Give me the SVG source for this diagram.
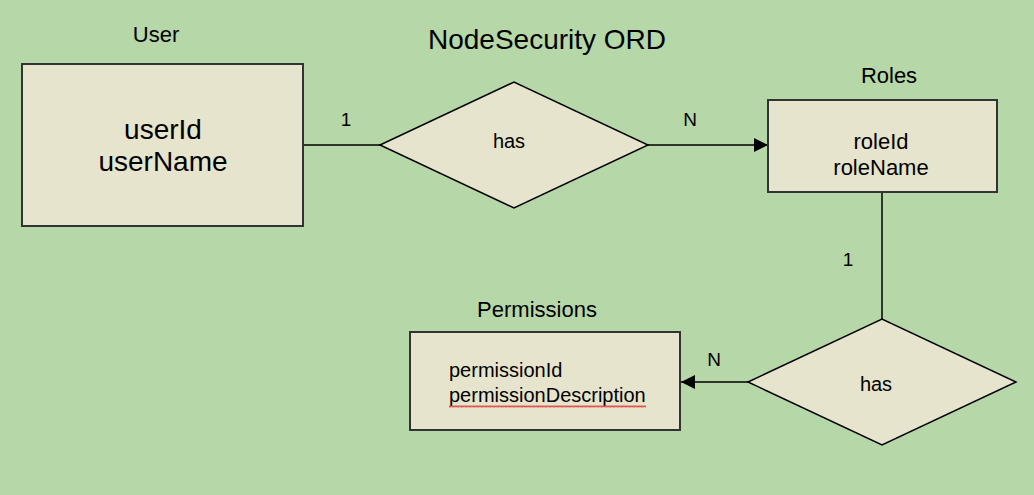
<svg xmlns="http://www.w3.org/2000/svg" width="1034" height="495" viewBox="0 0 1034 495">
<defs>
<marker id="arr" viewBox="0 0 10 10" refX="10" refY="5" markerWidth="14" markerHeight="14" markerUnits="userSpaceOnUse" orient="auto"><path d="M0,0 L10,5 L0,10 z" fill="#000"/></marker>
<pattern id="wave" width="4" height="3" patternUnits="userSpaceOnUse"><path d="M0,2.5 L1,0.5 L2,2.5 L3,0.5 L4,2.5" fill="none" stroke="#e03030" stroke-width="0.8"/></pattern>
</defs>
<style>
text{font-family:Arial,"Liberation Sans",sans-serif;fill:#000}
.ent{fill:#e6e4cc;stroke:#333;stroke-width:2}
.rel{fill:#e6e4cc;stroke:#000;stroke-width:1.5}
.c{fill:none;stroke:#000;stroke-width:1.5}
.lbl{font-size:22px}
.card{font-size:19px}
</style>
<rect width="1034" height="495" fill="#b6d7a8"/>
<text x="547" y="49" font-size="28" text-anchor="middle">NodeSecurity ORD</text>
<g id="connectors">
<line class="c" x1="303" y1="145" x2="380" y2="145"/>
<line class="c" x1="648" y1="145" x2="768" y2="145" marker-end="url(#arr)"/>
<line class="c" x1="882" y1="192" x2="882" y2="319"/>
<line class="c" x1="748" y1="382" x2="681" y2="382" marker-end="url(#arr)"/>
<text class="card" x="346" y="126" text-anchor="middle">1</text>
<text class="card" x="690" y="126" text-anchor="middle">N</text>
<text class="card" x="848" y="266" text-anchor="middle">1</text>
<text class="card" x="714" y="366" text-anchor="middle">N</text>
</g>
<g id="user">
<text class="lbl" x="156" y="42" text-anchor="middle">User</text>
<rect class="ent" x="22" y="64" width="281" height="162"/>
<text x="163" y="139" font-size="28" text-anchor="middle">userId</text>
<text x="163" y="171" font-size="28" text-anchor="middle">userName</text>
</g>
<g id="has1">
<polygon class="rel" points="380,145 514,82 648,145 514,208"/>
<text x="509" y="148" font-size="20" text-anchor="middle">has</text>
</g>
<g id="roles">
<text class="lbl" x="889" y="83" text-anchor="middle">Roles</text>
<rect class="ent" x="768" y="100" width="229" height="92"/>
<text x="881" y="149" font-size="22" text-anchor="middle">roleId</text>
<text x="881" y="175" font-size="22" text-anchor="middle">roleName</text>
</g>
<g id="has2">
<polygon class="rel" points="748,382 882,319 1016,382 882,445"/>
<text x="876" y="391" font-size="20" text-anchor="middle">has</text>
</g>
<g id="permissions">
<text class="lbl" x="537" y="317" text-anchor="middle">Permissions</text>
<rect class="ent" x="410" y="332" width="270" height="98"/>
<text x="449" y="377" font-size="20">permissionId</text>
<text x="449" y="402" font-size="20">permissionDescription</text>
<rect x="449" y="405" width="197" height="3" fill="url(#wave)"/>
</g>
</svg>
